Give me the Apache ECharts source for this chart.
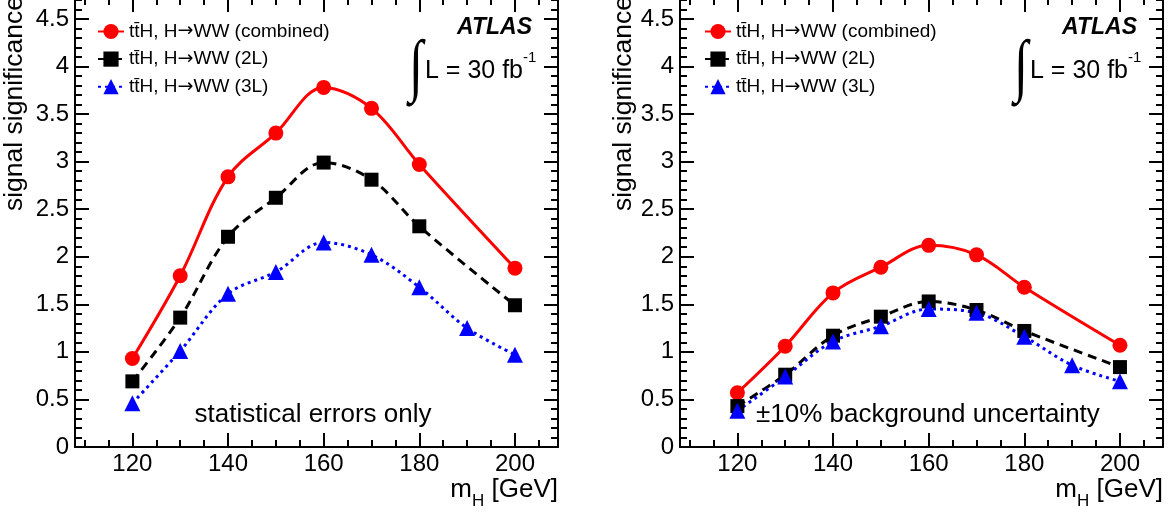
<!DOCTYPE html>
<html>
<head>
<meta charset="utf-8">
<script src="https://cdn.jsdelivr.net/npm/echarts@6/dist/echarts.min.js"></script>
<style>
html,body{margin:0;padding:0;background:#fff;}
#chart{width:1171px;height:514px;}
</style>
</head>
<body>
<div id="chart"></div>
<script>
// ---- data ----
const massAll = [120, 130, 140, 150, 160, 170, 180, 190, 200];
const massNo190 = [120, 130, 140, 150, 160, 170, 180, 200];

// left panel: statistical errors only
const statCombined = [0.93, 1.80, 2.84, 3.30, 3.78, 3.56, 2.97, 1.88];
const stat2L = [0.69, 1.36, 2.21, 2.62, 2.99, 2.81, 2.32, 1.49];
const stat3L = [0.46, 1.01, 1.61, 1.84, 2.15, 2.02, 1.68, 1.25, 0.97];

// right panel: +-10% background uncertainty
const systCombined = [0.57, 1.06, 1.62, 1.89, 2.12, 2.02, 1.68, 1.07];
const syst2L = [0.43, 0.76, 1.17, 1.37, 1.53, 1.44, 1.22, 0.84];
const syst3L = [0.38, 0.74, 1.11, 1.27, 1.45, 1.41, 1.16, 0.86, 0.69];

const seriesNames = [
  'tt\u0304H, H\u2192WW (combined)',
  'tt\u0304H, H\u2192WW (2L)',
  'tt\u0304H, H\u2192WW (3L)'
];

const xMajorTicks = [120, 140, 160, 180, 200];
const xMinorTicks = [110, 115, 120, 125, 130, 135, 140, 145, 150, 155, 160, 165, 170, 175, 180, 185, 190, 195, 200, 205];
const yMajorTicks = [0, 0.5, 1, 1.5, 2, 2.5, 3, 3.5, 4, 4.5];
const yMinorTicks = [0, 0.1, 0.2, 0.3, 0.4, 0.5, 0.6, 0.7, 0.8, 0.9, 1, 1.1, 1.2, 1.3, 1.4, 1.5, 1.6, 1.7, 1.8, 1.9,
  2, 2.1, 2.2, 2.3, 2.4, 2.5, 2.6, 2.7, 2.8, 2.9, 3, 3.1, 3.2, 3.3, 3.4, 3.5, 3.6, 3.7, 3.8, 3.9,
  4, 4.1, 4.2, 4.3, 4.4, 4.5, 4.6, 4.7];

const X_MIN = 108, X_MAX = 209, Y_MIN = 0, Y_MAX = 4.72;
const FONT = '"Liberation Sans", Arial, Helvetica, sans-serif';

function pairs(xs, ys) { return xs.map((x, i) => [x, ys[i]]); }

// ---- axes ----
const xAxes = [], yAxes = [];
function addAxes(g) {
  const base = { type: 'value', gridIndex: g, splitLine: { show: false }, minorTick: { show: false } };
  [['bottom', true], ['top', false]].forEach(([pos, labels]) => {
    xAxes.push(Object.assign({}, base, {
      position: pos, min: X_MIN, max: X_MAX, offset: 0,
      axisLine: { show: true, onZero: false, lineStyle: { color: '#000', width: 2 } },
      axisTick: { show: true, inside: true, length: 14, customValues: xMajorTicks, lineStyle: { color: '#000', width: 2 } },
      axisLabel: labels ? { show: true, customValues: xMajorTicks, fontSize: 24, color: '#000', fontFamily: FONT, margin: 5 } : { show: false }
    }));
    xAxes.push(Object.assign({}, base, {
      position: pos, min: X_MIN, max: X_MAX, offset: 0,
      axisLine: { show: false, onZero: false },
      axisTick: { show: true, inside: true, length: 7, customValues: xMinorTicks, lineStyle: { color: '#000', width: 2 } },
      axisLabel: { show: false }
    }));
  });
  [['left', true], ['right', false]].forEach(([pos, labels]) => {
    yAxes.push(Object.assign({}, base, {
      position: pos, min: Y_MIN, max: Y_MAX, offset: 0,
      axisLine: { show: true, onZero: false, lineStyle: { color: '#000', width: 2 } },
      axisTick: { show: true, inside: true, length: 14, customValues: yMajorTicks, lineStyle: { color: '#000', width: 2 } },
      axisLabel: labels ? { show: true, customValues: yMajorTicks, fontSize: 24, color: '#000', fontFamily: FONT, margin: 6 } : { show: false }
    }));
    yAxes.push(Object.assign({}, base, {
      position: pos, min: Y_MIN, max: Y_MAX, offset: 0,
      axisLine: { show: false, onZero: false },
      axisTick: { show: true, inside: true, length: 7, customValues: yMinorTicks, lineStyle: { color: '#000', width: 2 } },
      axisLabel: { show: false }
    }));
  });
}
addAxes(0);
addAxes(1);

// ---- series ----
function makeSeries(g, comb, twoL, threeL) {
  const xi = g * 4, yi = g * 4;
  return [
    { type: 'line', name: seriesNames[0], xAxisIndex: xi, yAxisIndex: yi, data: pairs(massNo190, comb),
      smooth: 0.35, symbol: 'circle', symbolSize: 15,
      lineStyle: { color: '#ff0000', width: 3, type: 'solid' }, itemStyle: { color: '#ff0000' } },
    { type: 'line', name: seriesNames[1], xAxisIndex: xi, yAxisIndex: yi, data: pairs(massNo190, twoL),
      smooth: 0.35, symbol: 'rect', symbolSize: 14,
      lineStyle: { color: '#000000', width: 3, type: [9, 6] }, itemStyle: { color: '#000000' } },
    { type: 'line', name: seriesNames[2], xAxisIndex: xi, yAxisIndex: yi, data: pairs(massAll, threeL),
      smooth: 0.35, symbol: 'triangle', symbolSize: 16,
      lineStyle: { color: '#0000ff', width: 3, type: [3, 4] }, itemStyle: { color: '#0000ff' } }
  ];
}
const series = [].concat(
  makeSeries(0, statCombined, stat2L, stat3L),
  makeSeries(1, systCombined, syst2L, syst3L)
);

// ---- text annotations ----
const graphics = [];
[0, 605].forEach((dx, p) => {
  graphics.push(
    { type: 'text', x: 532 + dx, y: 28, style: { text: 'ATLAS', fill: '#000', font: 'italic bold 23px ' + FONT, align: 'right', verticalAlign: 'middle' } },
    { type: 'text', x: 416 + dx, y: 70, scaleX: 0.8, scaleY: 1.08, style: { text: '\u222B', fill: '#000', font: '64px "Liberation Serif", serif', align: 'center', verticalAlign: 'middle' } },
    { type: 'text', x: 425 + dx, y: 71, style: { text: 'L = 30 fb', fill: '#000', font: '25px ' + FONT, align: 'left', verticalAlign: 'middle' } },
    { type: 'text', x: 523 + dx, y: 58, style: { text: '-1', fill: '#000', font: '15px ' + FONT, align: 'left', verticalAlign: 'middle' } },
    { type: 'text', x: 15 + dx + (p ? 4 : 0), y: -4, rotation: Math.PI / 2,
      style: { text: 'signal significance', fill: '#000', font: '26.5px ' + FONT, align: 'right', verticalAlign: 'middle' } },
    { type: 'text', x: 558 + dx, y: 490,
      style: { text: '{a|m}{b|H}{a| [GeV]}', align: 'right', verticalAlign: 'middle',
        rich: {
          a: { fontSize: 26, fontFamily: FONT, color: '#000', lineHeight: 40, verticalAlign: 'middle' },
          b: { fontSize: 17, fontFamily: FONT, color: '#000', lineHeight: 17, verticalAlign: 'bottom' }
        } } }
  );
});
graphics.push(
  { type: 'text', x: 313, y: 415, style: { text: 'statistical errors only', fill: '#000', font: '26px ' + FONT, align: 'center', verticalAlign: 'middle' } },
  { type: 'text', x: 756, y: 415, style: { text: '\u00B110% background uncertainty', fill: '#000', font: '26px ' + FONT, align: 'left', verticalAlign: 'middle' } }
);

const legendBase = {
  orient: 'vertical', top: 22, padding: 0, itemWidth: 26, itemHeight: 19, itemGap: 8.6,
  data: seriesNames, selectedMode: false,
  formatter: function (name) {
    const parts = name.split('\u2192');
    return '{t|' + parts[0] + '}{arr|\u2192}{t|' + parts[1] + '}';
  },
  textStyle: {
    fontSize: 19, color: '#000', fontFamily: FONT,
    rich: {
      t: { fontSize: 19, color: '#000', fontFamily: FONT },
      arr: { fontSize: 19, color: '#000', fontFamily: '"DejaVu Sans", sans-serif' }
    }
  }
};

const chart = echarts.init(document.getElementById('chart'), null, { renderer: 'canvas' });
chart.setOption({
  animation: false,
  backgroundColor: '#fff',
  grid: [
    { left: 75, top: -2, width: 483, height: 449, outerBoundsMode: 'none', containLabel: false },
    { left: 680, top: -2, width: 483, height: 449, outerBoundsMode: 'none', containLabel: false }
  ],
  xAxis: xAxes,
  yAxis: yAxes,
  legend: [
    Object.assign({}, legendBase, { left: 97 }),
    Object.assign({}, legendBase, { left: 704 })
  ],
  series: series,
  graphic: graphics
});
</script>
</body>
</html>
